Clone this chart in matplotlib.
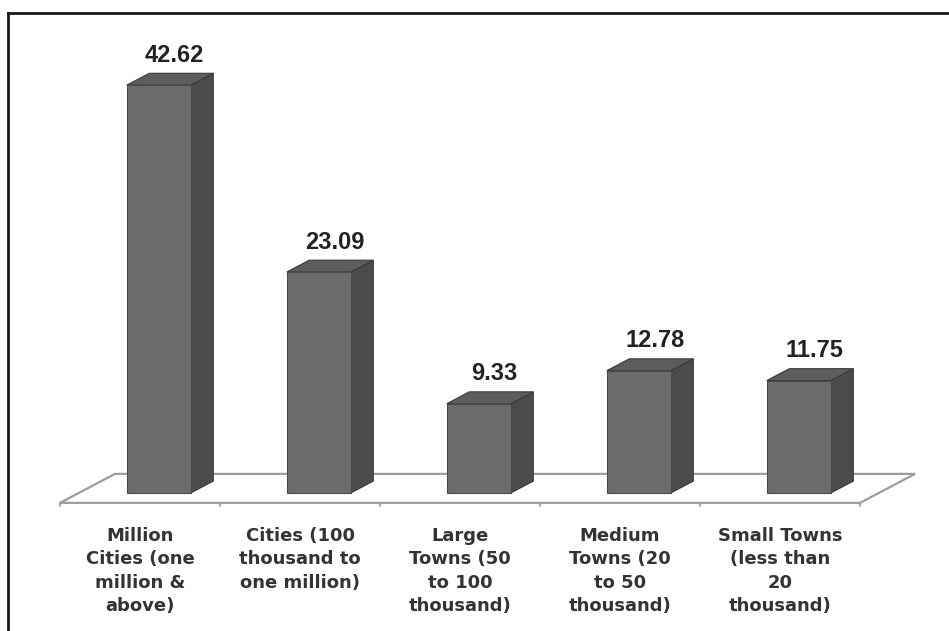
import matplotlib
matplotlib.use("Agg")
import matplotlib.pyplot as plt
from matplotlib.patches import Polygon
from matplotlib.lines import Line2D

categories = ["Million\nCities (one\nmillion &\nabove)",
              "Cities (100\nthousand to\none million)",
              "Large\nTowns (50\nto 100\nthousand)",
              "Medium\nTowns (20\nto 50\nthousand)",
              "Small Towns\n(less than\n20\nthousand)"]
values = [42.62, 23.09, 9.33, 12.78, 11.75]
value_labels = ["42.62", "23.09", "9.33", "12.78", "11.75"]

fig = plt.figure(figsize=(9.49, 6.31), dpi=100)
ax = fig.add_axes([0, 0, 1, 1])
ax.set_xlim(-0.875, 5.056)
ax.set_ylim(-14.42, 51.52)
ax.axis("off")

# depth vector of the floor (x in category units, y in value units)
ddx, ddy = 0.344, 3.03
front_t, back_t = 0.34, 0.75
y0 = -front_t * ddy
bw = 0.4

# floor parallelogram
n = len(values)
fl = [(-0.5, y0), (n - 0.5, y0), (n - 0.5 + ddx, y0 + ddy), (-0.5 + ddx, y0 + ddy)]
ax.add_patch(Polygon(fl, closed=True, facecolor="white", edgecolor="#9c9c9c", lw=1.6, zorder=1))
for i in range(n + 1):
    ax.plot([i - 0.5, i - 0.5], [y0, y0 - 0.35], color="#9c9c9c", lw=1.2, zorder=1)

# 3d looking bars
for i, v in enumerate(values):
    fx0 = i - bw / 2 + front_t * ddx
    fx1 = fx0 + bw
    fy0 = y0 + front_t * ddy
    sx = (back_t - front_t) * ddx
    sy = (back_t - front_t) * ddy
    front = [(fx0, fy0), (fx1, fy0), (fx1, fy0 + v), (fx0, fy0 + v)]
    side = [(fx1, fy0), (fx1 + sx, fy0 + sy), (fx1 + sx, fy0 + v + sy), (fx1, fy0 + v)]
    top = [(fx0, fy0 + v), (fx1, fy0 + v), (fx1 + sx, fy0 + v + sy), (fx0 + sx, fy0 + v + sy)]
    ax.add_patch(Polygon(side, closed=True, facecolor="#4b4b4b", edgecolor="#3a3a3a", lw=0.8, zorder=3))
    ax.add_patch(Polygon(top, closed=True, facecolor="#5d5d5d", edgecolor="#3a3a3a", lw=0.8, zorder=3))
    ax.add_patch(Polygon(front, closed=True, facecolor="#6c6c6c", edgecolor="#4a4a4a", lw=0.8, zorder=3))
    ax.text(fx0 + bw / 2 + 0.1, fy0 + v + sy + 1.2, value_labels[i], ha="center", va="baseline",
            fontsize=17, fontweight="bold", family="Liberation Sans", color="#222222", zorder=4)
    ax.text(i, -3.55, categories[i], ha="center", va="top", multialignment="center",
            fontsize=13, fontweight="bold", color="#333333", linespacing=1.38, zorder=4)

# frame line on the left and top
fig.add_artist(Line2D([8 / 949, 8 / 949], [0, 1 - 13 / 631], color="#1a1a1a", lw=2))
fig.add_artist(Line2D([8 / 949, 1], [1 - 13 / 631, 1 - 13 / 631], color="#1a1a1a", lw=2))

fig.savefig("out.png", dpi=100)
